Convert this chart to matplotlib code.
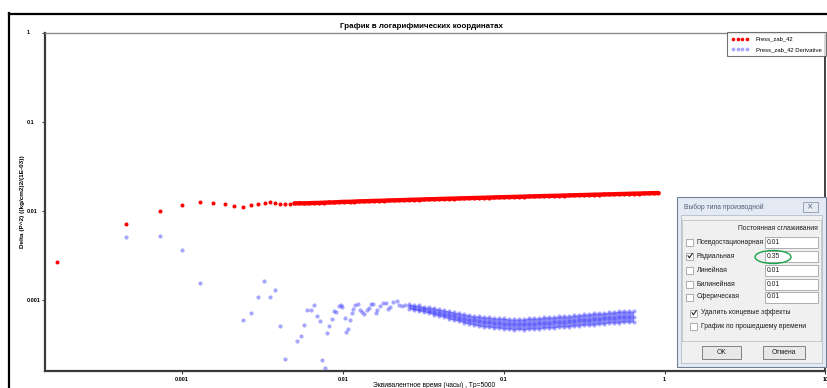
import matplotlib
matplotlib.use('Agg')
import matplotlib.pyplot as plt
from matplotlib.patches import Rectangle, Ellipse
from matplotlib.ticker import FixedLocator, FixedFormatter, NullLocator

# ---- chart data -------------------------------------------------------------
title = 'График в логарифмических координатах'
x_label = 'Эквивалентное время (часы) , Tp=5000'
y_label = 'Delta (P^2) ((kg/cm2)2/(1E-03))'
press_name = 'Press_zab_42'
deriv_name = 'Press_zab_42 Derivative'

x_ticks = [0.001, 0.01, 0.1, 1, 10]
x_tick_labels = ['0.001', '0.01', '0.1', '1', '10']
y_ticks = [0.001, 0.01, 0.1, 1]
y_tick_labels = ['0.001', '0.01', '0.1', '1']

# pressure function, first (sparse) samples
press_t_early = [1.67e-4, 4.47e-4, 7.3e-4, 1.0e-3, 1.29e-3, 1.57e-3, 1.85e-3, 2.12e-3,
                 2.40e-3, 2.70e-3, 2.97e-3, 3.26e-3, 3.54e-3, 3.80e-3, 4.09e-3, 4.36e-3,
                 4.67e-3]
press_v_early = [0.00267, 0.0072, 0.0100, 0.0117, 0.0126, 0.0122, 0.0118, 0.0113,
                 0.0111, 0.0117, 0.0120, 0.0124, 0.0126, 0.0122, 0.0120, 0.0118,
                 0.0120]

# pressure function, dense part
press_t = [0.00500, 0.00537, 0.00577, 0.00619, 0.00665, 0.00714, 0.00767, 0.00824, 0.00885, 0.00950,
           0.0102, 0.0110, 0.0118, 0.0126, 0.0136, 0.0146, 0.0157, 0.0168, 0.0181, 0.0194,
           0.0209, 0.0224, 0.0241, 0.0259, 0.0278, 0.0298, 0.0320, 0.0344, 0.0369, 0.0397,
           0.0426, 0.0458, 0.0491, 0.0528, 0.0567, 0.0609, 0.0654, 0.0702, 0.0754, 0.0810,
           0.0870, 0.0934, 0.100, 0.108, 0.116, 0.124, 0.133, 0.143, 0.154, 0.165,
           0.177, 0.191, 0.205, 0.220, 0.236, 0.254, 0.272, 0.292, 0.314, 0.337,
           0.362, 0.389, 0.418, 0.449, 0.482, 0.518, 0.556, 0.597, 0.641, 0.689,
           0.740, 0.794, 0.853, 0.916]
press_v = [0.01210, 0.01218, 0.01212, 0.01220, 0.01226, 0.01228, 0.01236, 0.01242, 0.01244, 0.01256,
           0.01262, 0.01264, 0.01270, 0.01278, 0.01280, 0.01286, 0.01294, 0.01296, 0.01302, 0.01308,
           0.01312, 0.01318, 0.01322, 0.01330, 0.01334, 0.01338, 0.01344, 0.01350, 0.01352, 0.01360,
           0.01364, 0.01370, 0.01374, 0.01378, 0.01384, 0.01390, 0.01394, 0.01398, 0.01404, 0.01410,
           0.01414, 0.01420, 0.01424, 0.01430, 0.01434, 0.01440, 0.01444, 0.01450, 0.01454, 0.01460,
           0.01466, 0.01470, 0.01476, 0.01480, 0.01486, 0.01490, 0.01496, 0.01502, 0.01506, 0.01512,
           0.01518, 0.01522, 0.01528, 0.01532, 0.01538, 0.01544, 0.01548, 0.01554, 0.01560, 0.01564,
           0.01570, 0.01574, 0.01580, 0.01584]

# derivative, scattered early samples
deriv_t_early = [4.47e-4, 7.3e-4, 1.0e-3, 1.29e-3, 2.40e-3, 2.70e-3, 2.97e-3, 3.25e-3,
                 3.54e-3, 3.80e-3, 4.09e-3, 4.36e-3, 5.2e-3, 5.5e-3, 5.7e-3, 6.0e-3,
                 6.3e-3, 6.6e-3, 6.9e-3, 7.2e-3, 7.4e-3, 7.7e-3, 8.0e-3, 8.2e-3,
                 8.5e-3, 8.8e-3, 9.1e-3, 9.4e-3, 0.00976, 0.0099, 0.01026, 0.01048,
                 0.0108, 0.01105, 0.01132, 0.01159, 0.01188, 0.01234, 0.01276, 0.01318,
                 0.01357, 0.01403, 0.01449, 0.01499, 0.01542, 0.01602, 0.01633, 0.01698,
                 0.01779, 0.01849, 0.01910, 0.01977, 0.02051, 0.02157, 0.02238, 0.02316,
                 0.02428]
deriv_v_early = [0.00514, 0.00528, 0.00365, 0.00155, 6.0e-4, 7.15e-4, 1.08e-3, 1.65e-3,
                 1.07e-3, 1.31e-3, 5.14e-4, 2.19e-4, 3.49e-4, 3.91e-4, 5.24e-4, 7.7e-4,
                 7.7e-4, 8.7e-4, 6.6e-4, 5.8e-4, 2.1e-4, 1.75e-4, 4.3e-4, 5.1e-4,
                 6.1e-4, 7.5e-4, 7.3e-4, 8.6e-4, 8.71e-4, 8.34e-4, 6.22e-4, 4.33e-4,
                 4.76e-4, 5.96e-4, 7.10e-4, 7.87e-4, 8.71e-4, 9.08e-4, 7.72e-4, 7.28e-4,
                 7.02e-4, 7.72e-4, 8.19e-4, 9.08e-4, 9.08e-4, 7.20e-4, 7.72e-4, 8.57e-4,
                 9.18e-4, 9.33e-4, 7.87e-4, 8.28e-4, 9.50e-4, 9.67e-4, 8.71e-4, 8.57e-4,
                 8.86e-4]

# derivative in the smooth band: upper / middle / lower scatter at the pressure sample times
band_t = press_t[23:69]
deriv_hi = [9.02e-4, 8.79e-4, 8.79e-4, 8.35e-4, 8.35e-4, 8.13e-4, 7.92e-4, 7.72e-4, 7.53e-4, 7.33e-4,
            7.15e-4, 6.96e-4, 6.79e-4, 6.61e-4, 6.61e-4, 6.45e-4, 6.45e-4, 6.28e-4, 6.28e-4, 6.28e-4,
            6.12e-4, 6.12e-4, 6.12e-4, 6.12e-4, 6.28e-4, 6.28e-4, 6.28e-4, 6.45e-4, 6.45e-4, 6.45e-4,
            6.61e-4, 6.61e-4, 6.61e-4, 6.79e-4, 6.79e-4, 6.96e-4, 6.96e-4, 7.15e-4, 7.15e-4, 7.15e-4,
            7.33e-4, 7.33e-4, 7.53e-4, 7.53e-4, 7.53e-4, 7.53e-4]
deriv_mid = [8.56e-4, 8.13e-4, 7.92e-4, 7.92e-4, 7.53e-4, 7.33e-4, 7.15e-4, 6.96e-4, 6.79e-4, 6.61e-4,
             6.28e-4, 6.12e-4, 5.96e-4, 5.96e-4, 5.81e-4, 5.66e-4, 5.66e-4, 5.52e-4, 5.52e-4, 5.38e-4,
             5.38e-4, 5.38e-4, 5.38e-4, 5.38e-4, 5.38e-4, 5.38e-4, 5.52e-4, 5.52e-4, 5.52e-4, 5.66e-4,
             5.66e-4, 5.66e-4, 5.81e-4, 5.81e-4, 5.96e-4, 5.96e-4, 5.96e-4, 6.12e-4, 6.12e-4, 6.28e-4,
             6.28e-4, 6.28e-4, 6.45e-4, 6.45e-4, 6.45e-4, 6.45e-4]
deriv_lo = [7.92e-4, 7.72e-4, 7.53e-4, 7.33e-4, 7.15e-4, 6.79e-4, 6.61e-4, 6.45e-4, 6.12e-4, 5.96e-4,
            5.81e-4, 5.52e-4, 5.38e-4, 5.24e-4, 5.11e-4, 4.98e-4, 4.98e-4, 4.85e-4, 4.85e-4, 4.73e-4,
            4.73e-4, 4.61e-4, 4.73e-4, 4.61e-4, 4.73e-4, 4.73e-4, 4.73e-4, 4.85e-4, 4.85e-4, 4.85e-4,
            4.98e-4, 4.98e-4, 4.98e-4, 5.11e-4, 5.11e-4, 5.24e-4, 5.24e-4, 5.24e-4, 5.38e-4, 5.38e-4,
            5.52e-4, 5.52e-4, 5.52e-4, 5.66e-4, 5.66e-4, 5.66e-4]

# ---- dialog contents --------------------------------------------------------
dlg_title = 'Выбор типа производной'
dlg_caption = 'Постоянная сглаживания'
dlg_rows = ['Псевдостационарная', 'Радиальная', 'Линейная', 'Билинейная', 'Сферическая']
dlg_row_checked = [False, True, False, False, False]
dlg_values = ['0.01', '0.35', '0.01', '0.01', '0.01']
dlg_options = ['Удалить концевые эффекты', 'График по прошедшему времени']
dlg_opt_checked = [True, False]
dlg_buttons = ['OK', 'Отмена']

W, H = 828, 388
FONT = 'Liberation Sans'
RED = '#ff0000'
BLUE = '#3c3cff'


def px_rect(left, top, right, bottom):
    """Figure-fraction rectangle from pixel edges (y measured from the top)."""
    return [left / W, 1 - bottom / H, (right - left) / W, (bottom - top) / H]


fig = plt.figure(figsize=(W / 100, H / 100), dpi=100)
fig.patch.set_facecolor('white')

ax_l, ax_t, ax_r, ax_b = 45, 32.5, 825.5, 370.5
ax = fig.add_axes(px_rect(ax_l, ax_t, ax_r, ax_b))
ax.set_xscale('log')
ax.set_yscale('log')
ax.set_xlim(1.408e-4, 10)
ax.set_ylim(1.62e-4, 1)

# pressure: sparse dots, then so many samples that they merge into a thick trace
ax.plot(press_t_early, press_v_early, ls='none', marker='o', ms=2.9, mew=0,
        color=RED, label=press_name)
ax.plot(press_t, press_v, ls='-', lw=3.1, marker='o', ms=3.0, mew=0, color=RED,
        solid_capstyle='round')

# derivative: scattered dots and the dense band
ax.fill_between(band_t, deriv_lo, deriv_hi, color='#6a6af8', alpha=0.8, lw=0)
ax.plot(deriv_t_early + band_t * 3, deriv_v_early + deriv_hi + deriv_mid + deriv_lo,
        ls='none', marker='o', ms=3.0, mew=0, color=BLUE, alpha=0.45,
        label=deriv_name)

ax.xaxis.set_major_locator(FixedLocator(x_ticks))
ax.xaxis.set_major_formatter(FixedFormatter(x_tick_labels))
ax.yaxis.set_major_locator(FixedLocator(y_ticks))
ax.yaxis.set_major_formatter(FixedFormatter(y_tick_labels))
ax.xaxis.set_minor_locator(NullLocator())
ax.yaxis.set_minor_locator(NullLocator())
ax.tick_params(axis='x', direction='out', length=2.5, width=0.8, color='#404040',
               labelsize=4, pad=2)
ax.tick_params(axis='y', direction='out', length=2, width=0.8, color='#404040',
               labelsize=4, pad=11)
for lab in ax.get_xticklabels() + ax.get_yticklabels():
    lab.set_fontweight('bold')
    lab.set_fontfamily(FONT)
for lab in ax.get_yticklabels():
    lab.set_horizontalalignment('left')

for side in ('left', 'bottom'):
    ax.spines[side].set_color('#3a3a3a')
    ax.spines[side].set_linewidth(1.6)
ax.spines['top'].set_color('#8a8a8a')
ax.spines['top'].set_linewidth(1.0)
ax.spines['right'].set_color('#202020')
ax.spines['right'].set_linewidth(1.2)

ax.set_title(title, fontsize=5.8, fontweight='bold', family=FONT,
             x=(422 - ax_l) / (ax_r - ax_l), pad=3.5)
ax.set_ylabel(y_label, fontsize=4.6, fontweight='bold', family=FONT)
ax.yaxis.set_label_coords((25.5 - ax_l) / (ax_r - ax_l), 0.5)
ax.set_xlabel(x_label, fontsize=4.8, family=FONT)
ax.xaxis.set_label_coords((434 - ax_l) / (ax_r - ax_l), -(382 - ax_b) / (ax_b - ax_t))

leg = ax.legend(loc='upper right', borderaxespad=0, numpoints=4, handlelength=3.0,
                handletextpad=1.2, borderpad=0.7, labelspacing=0.9, fancybox=False,
                prop={'family': FONT, 'size': 4.2}, markerscale=0.9)
leg.get_frame().set_edgecolor('#505050')
leg.get_frame().set_linewidth(0.8)

# ---- overlay in pixel coordinates: window frame and the dialog --------------
ov = fig.add_axes([0, 0, 1, 1])
ov.set_xlim(0, W)
ov.set_ylim(H, 0)
ov.axis('off')

ov.plot([9.5, 9.5], [13, H], color='black', lw=1.6)
ov.plot([9, W], [13.5, 13.5], color='black', lw=1.6)

dlg_font = dict(family=FONT, fontsize=4.9, color='#1e1e1e', va='center')

ov.add_patch(Rectangle((677, 197), 149, 170, facecolor='#e3eaf3', edgecolor='#6f7f95', lw=0.8))
ov.add_patch(Rectangle((681, 215), 141, 148, facecolor='#f0f0f0', edgecolor='#a9b4c2', lw=0.5))
ov.text(684, 207, dlg_title, **{**dlg_font, 'color': '#52607a'})
ov.add_patch(Rectangle((803, 202), 15, 10, facecolor='#e6ebf2', edgecolor='#8a98ad', lw=0.6))
ov.text(810.5, 207, '×', ha='center', va='center', fontsize=5.5, color='#5a6a80', family='DejaVu Sans')

ov.add_patch(Rectangle((682.5, 220), 138.5, 121, facecolor='none', edgecolor='#c4c9ce', lw=0.7))
ov.text(818, 228, dlg_caption, ha='right', **dlg_font)


def checkbox(cx, cy, checked):
    ov.add_patch(Rectangle((cx - 3.5, cy - 3.5), 7, 7, facecolor='white', edgecolor='#8e8f8f', lw=0.5))
    if checked:
        ov.plot([cx - 2, cx - 0.6, cx + 2.3], [cy - 0.2, cy + 1.8, cy - 2.4], color='#222222', lw=0.8)


row_y = [242, 256, 270, 284, 297]
for y, name, chk, val in zip(row_y, dlg_rows, dlg_row_checked, dlg_values):
    checkbox(690, y, chk)
    ov.text(697, y, name, **dlg_font)
    ov.add_patch(Rectangle((765, y - 5.5), 53, 11, facecolor='white', edgecolor='#9ea3a8', lw=0.6, zorder=3))
    ov.text(767, y, val, zorder=4, **dlg_font)

ov.add_patch(Ellipse((773, 257), 36, 13, facecolor='none', edgecolor='#1aa34a', lw=1.0, zorder=5))

opt_y = [313, 326]
for y, name, chk in zip(opt_y, dlg_options, dlg_opt_checked):
    checkbox(694, y, chk)
    ov.text(701, y, name, **dlg_font)

btn_x = [(702, 741), (763, 805)]
for (x0, x1), name in zip(btn_x, dlg_buttons):
    ov.add_patch(Rectangle((x0, 346), x1 - x0, 13, facecolor='#e8e8e8', edgecolor='#707070', lw=0.6))
    ov.text((x0 + x1) / 2, 352.5, name, ha='center', **dlg_font)

fig.savefig('out.png', dpi=100, facecolor='white')
